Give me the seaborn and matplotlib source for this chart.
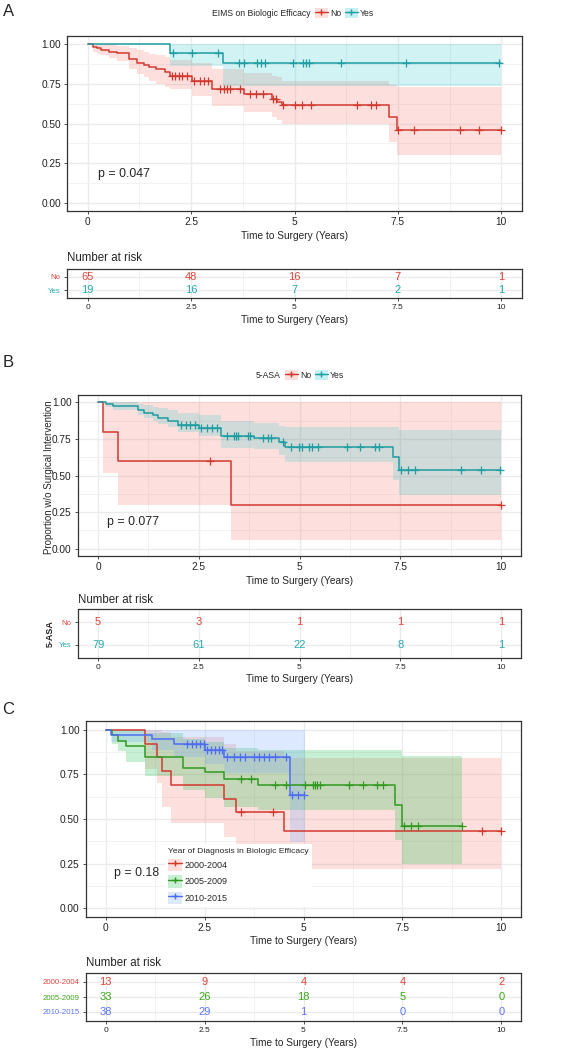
import numpy as np
import matplotlib.pyplot as plt
import seaborn as sns
from matplotlib.patches import Patch
from matplotlib.lines import Line2D

sns.set_style('ticks')
plt.rcParams['font.family'] = ['Liberation Sans', 'DejaVu Sans']

# ---- panel A: EIMS on biologic efficacy ----
a_no_t = [0, 0.14, 0.23, 0.31, 0.51, 0.71, 1.0, 1.2, 1.36, 1.48, 1.64, 1.88, 2.0, 2.52, 3.0, 3.77, 4.45, 4.57, 4.69, 7.29, 7.48, 10.0]
a_no_s = [1.0, 0.983, 0.973, 0.962, 0.952, 0.945, 0.904, 0.883, 0.868, 0.857, 0.843, 0.826, 0.80, 0.77, 0.715, 0.685, 0.652, 0.637, 0.615, 0.543, 0.459, 0.459]
a_no_hi = [1.0, 1.0, 1.0, 1.0, 0.995, 0.99, 0.975, 0.96, 0.95, 0.94, 0.93, 0.92, 0.90, 0.88, 0.84, 0.82, 0.80, 0.79, 0.77, 0.74, 0.73, 0.73]
a_no_lo = [1.0, 0.95, 0.94, 0.93, 0.91, 0.89, 0.84, 0.81, 0.79, 0.77, 0.75, 0.73, 0.715, 0.67, 0.61, 0.575, 0.54, 0.52, 0.50, 0.385, 0.30, 0.30]
a_no_cens = [2.04, 2.12, 2.2, 2.28, 2.39, 2.56, 2.71, 2.8, 2.92, 3.2, 3.29, 3.37, 3.45, 3.69, 3.93, 4.07, 4.25,
             4.49, 4.55, 4.72, 5.01, 5.19, 5.41, 6.5, 6.84, 6.96, 7.5, 7.88, 9.0, 9.47, 9.99]
a_yes_t = [0, 2.0, 3.28, 10.0]
a_yes_s = [1.0, 0.945, 0.882, 0.882]
a_yes_hi = [1.0, 1.0, 1.0, 1.0]
a_yes_lo = [1.0, 0.86, 0.735, 0.735]
a_yes_cens = [2.06, 2.52, 3.14, 3.67, 3.77, 4.09, 4.18, 4.29, 4.96, 5.2, 5.28, 5.35, 6.13, 7.69, 9.95]
a_groups = ['No', 'Yes']
a_risk_no = [65, 48, 16, 7, 1]
a_risk_yes = [19, 16, 7, 2, 1]

# ---- panel B: 5-ASA ----
b_no_t = [0, 0.12, 0.5, 3.3, 10.0]
b_no_s = [1.0, 0.8, 0.6, 0.3, 0.3]
b_no_hi = [1.0, 1.0, 1.0, 1.0, 1.0]
b_no_lo = [1.0, 0.52, 0.30, 0.06, 0.06]
b_no_cens = [2.79, 10.0]
b_yes_t = [0, 0.2, 0.36, 0.98, 1.15, 1.36, 1.48, 1.73, 1.98, 2.51, 3.05, 3.88, 4.5, 4.64, 7.31, 7.47, 10.0]
b_yes_s = [1.0, 0.987, 0.975, 0.948, 0.93, 0.915, 0.895, 0.875, 0.845, 0.823, 0.773, 0.755, 0.727, 0.698, 0.625, 0.54, 0.54]
b_yes_hi = [1.0, 1.0, 1.0, 0.99, 0.98, 0.97, 0.96, 0.95, 0.93, 0.91, 0.875, 0.86, 0.84, 0.83, 0.83, 0.81, 0.81]
b_yes_lo = [1.0, 0.97, 0.95, 0.91, 0.89, 0.87, 0.85, 0.83, 0.80, 0.77, 0.69, 0.68, 0.64, 0.595, 0.47, 0.37, 0.37]
b_yes_cens = [2.06, 2.18, 2.29, 2.4, 2.55, 2.7, 2.82, 2.95, 3.2, 3.38, 3.43, 3.48, 3.71, 3.78, 4.09, 4.21, 4.29,
              4.58, 4.79, 4.99, 5.07, 5.24, 5.32, 5.45, 6.17, 6.5, 6.87, 6.98, 7.51, 7.69, 7.88, 9.02, 9.5, 9.99]
b_groups = ['No', 'Yes']
b_risk_no = [5, 3, 1, 1, 1]
b_risk_yes = [79, 61, 22, 8, 1]

# ---- panel C: year of diagnosis ----
c1_t = [0, 0.98, 1.3, 1.43, 1.64, 3.0, 3.3, 4.5, 10.0]
c1_s = [1.0, 0.923, 0.846, 0.769, 0.692, 0.615, 0.538, 0.43, 0.43]
c1_hi = [1.0, 1.0, 1.0, 0.99, 0.96, 0.92, 0.88, 0.84, 0.84]
c1_lo = [1.0, 0.78, 0.70, 0.57, 0.48, 0.40, 0.36, 0.22, 0.22]
c1_cens = [3.42, 4.23, 9.51, 10.0]
c2_t = [0, 0.17, 0.31, 0.5, 0.98, 1.96, 2.5, 3.0, 3.84, 7.31, 7.5, 9.02]
c2_s = [1.0, 0.97, 0.94, 0.909, 0.85, 0.787, 0.762, 0.725, 0.693, 0.581, 0.46, 0.46]
c2_hi = [1.0, 1.0, 1.0, 1.0, 0.98, 0.95, 0.93, 0.90, 0.885, 0.89, 0.855, 0.855]
c2_lo = [1.0, 0.92, 0.88, 0.82, 0.74, 0.66, 0.62, 0.57, 0.55, 0.38, 0.25, 0.25]
c2_cens = [3.42, 3.67, 4.27, 4.55, 5.03, 5.23, 5.29, 5.35, 5.42, 6.15, 6.51, 6.85, 7.0, 7.54, 7.71, 7.9, 9.02]
c3_t = [0, 0.13, 1.18, 1.72, 2.52, 3.0, 4.66, 5.04]
c3_s = [1.0, 0.974, 0.947, 0.92, 0.887, 0.846, 0.637, 0.637]
c3_hi = [1.0, 1.0, 1.0, 1.0, 1.0, 1.0, 1.0, 1.0]
c3_lo = [1.0, 0.93, 0.89, 0.85, 0.81, 0.76, 0.37, 0.37]
c3_cens = [2.06, 2.17, 2.28, 2.38, 2.49, 2.56, 2.66, 2.77, 2.86, 2.94, 3.07, 3.24, 3.4, 3.51, 3.74, 3.87, 3.99,
           4.14, 4.29, 4.56, 4.71, 4.86, 5.0]
c_groups = ['2000-2004', '2005-2009', '2010-2015']
c_risk_1 = [13, 9, 4, 4, 2]
c_risk_2 = [33, 26, 18, 5, 0]
c_risk_3 = [38, 29, 1, 0, 0]

risk_x = [0, 2.5, 5, 7.5, 10]
x_labels = ['0', '2.5', '5', '7.5', '10']
y_ticks = [0, 0.25, 0.5, 0.75, 1.0]
y_labels = ['0.00', '0.25', '0.50', '0.75', '1.00']

RED, TEAL = '#D2392E', '#1E9DA2'
GREEN, BLUE = '#2F9A1E', '#4F6CF5'
RED_F, TEAL_F, GREEN_F, BLUE_F = '#F8766D', '#00BFC4', '#00BA38', '#619CFF'
RED_T, TEAL_T, GREEN_T, BLUE_T = '#E0453B', '#27AAB0', '#3AA817', '#5B74FF'

W, H = 564, 1050
fig = plt.figure(figsize=(W / 100, H / 100), dpi=100)


def box(l, t, r, b):
    return [l / W, 1 - b / H, (r - l) / W, (b - t) / H]


def km(ax, t, s, lo, hi, cens, lc, fc, alpha=0.22):
    ax.fill_between(t, lo, hi, step='post', color=fc, alpha=alpha, lw=0, zorder=1)
    sns.lineplot(x=t, y=s, drawstyle='steps-post', color=lc, lw=1.1, ax=ax, zorder=2)
    cy = np.array(s)[np.searchsorted(t, cens, side='right') - 1]
    sns.scatterplot(x=cens, y=cy, marker='+', s=30, color=lc, linewidth=0.9, ax=ax, zorder=3)


def base_axes(ax):
    ax.set_xlim(-0.5, 10.5)
    ax.set_xticks(risk_x)
    ax.set_xticks([1.25, 3.75, 6.25, 8.75], minor=True)
    ax.set_axisbelow(True)
    ax.grid(which='major', color='#EBEBEB', lw=1.0)
    ax.grid(which='minor', axis='x', color='#F0F0F0', lw=0.6)
    ax.tick_params(which='minor', length=0)
    ax.tick_params(which='major', length=2.5, width=0.6, color='#333333', pad=2)
    for sp in ax.spines.values():
        sp.set_color('#333333')
        sp.set_linewidth(0.9)
    ax.set_ylabel('')


def main_axes(ax, xlab_y):
    base_axes(ax)
    ax.set_ylim(-0.05, 1.05)
    ax.set_yticks(y_ticks)
    ax.set_yticks([0.125, 0.375, 0.625, 0.875], minor=True)
    ax.grid(which='minor', axis='y', color='#F0F0F0', lw=0.6)
    ax.set_xticklabels(x_labels, fontsize=7.3, color='#222222')
    ax.set_yticklabels(y_labels, fontsize=7.3, color='#222222')
    ax.set_xlabel('Time to Surgery (Years)', fontsize=7.3, va='top')
    ax.xaxis.set_label_coords(0.5, xlab_y)


def risk_axes(ax, groups, counts, colors, xlab_y, title_y):
    base_axes(ax)
    n = len(groups)
    for i in range(n):
        for x, v in zip(risk_x, counts[i]):
            ax.text(x, n - 1 - i, str(v), color=colors[i], ha='center', va='center', fontsize=8)
    ax.set_ylim(-0.6, n - 0.4)
    ax.set_yticks(range(n))
    ax.set_yticklabels(groups[::-1], fontsize=5.6)
    for lab, col in zip(ax.get_yticklabels(), colors[::-1]):
        lab.set_color(col)
    ax.set_xticklabels(x_labels, fontsize=6, color='#222222')
    ax.set_xlabel('Time to Surgery (Years)', fontsize=7.3, va='top')
    ax.xaxis.set_label_coords(0.5, xlab_y)
    pos = ax.get_position()
    fig.text(pos.x0, 1 - title_y / H, 'Number at risk', fontsize=8.3, va='center', ha='left')


def top_legend(title, x_title, x_leg, y, fills, lines):
    handles = [(Patch(facecolor=f, alpha=0.22, lw=0), Line2D([], [], color=c, lw=1.0, marker='+', ms=5))
               for f, c in zip(fills, lines)]
    fig.text(x_title / W, 1 - y / H, title, fontsize=6.2, ha='right', va='center')
    fig.legend(handles, ['No', 'Yes'], ncol=2, loc='center left', bbox_to_anchor=(x_leg / W, 1 - y / H),
               frameon=False, fontsize=6.2, handlelength=1.5, handleheight=1.3, handletextpad=0.25,
               columnspacing=0.4, borderpad=0, borderaxespad=0)


# ---- A ----
axA = fig.add_axes(box(67, 36, 522, 211))
km(axA, a_no_t, a_no_s, a_no_lo, a_no_hi, a_no_cens, RED, RED_F)
km(axA, a_yes_t, a_yes_s, a_yes_lo, a_yes_hi, a_yes_cens, TEAL, TEAL_F, 0.18)
main_axes(axA, -0.114)
axA.text(0.25, 0.18, 'p = 0.047', fontsize=8.9, va='center', ha='left')
top_legend('EIMS on Biologic Efficacy', 311, 315, 13, [RED_F, TEAL_F], [RED, TEAL])
axAr = fig.add_axes(box(67, 269, 522, 298))
risk_axes(axAr, a_groups, [a_risk_no, a_risk_yes], [RED_T, TEAL_T], -0.586, 258)
fig.text(9 / W, 1 - 11 / H, 'A', fontsize=12, ha='center', va='center')

# ---- B ----
axB = fig.add_axes(box(78, 395, 521, 556))
km(axB, b_no_t, b_no_s, b_no_lo, b_no_hi, b_no_cens, RED, RED_F)
km(axB, b_yes_t, b_yes_s, b_yes_lo, b_yes_hi, b_yes_cens, TEAL, TEAL_F, 0.18)
main_axes(axB, -0.124)
axB.text(0.22, 0.18, 'p = 0.077', fontsize=8.9, va='center', ha='left')
fig.text(49 / W, 1 - 477 / H, 'Proportion w/o Surgical Intervention', fontsize=7, rotation=90,
         ha='center', va='center')
top_legend('5-ASA', 281, 285, 375, [RED_F, TEAL_F], [RED, TEAL])
axBr = fig.add_axes(box(78, 609, 521, 658))
risk_axes(axBr, b_groups, [b_risk_no, b_risk_yes], [RED_T, TEAL_T], -0.327, 600)
fig.text(50 / W, 1 - 634 / H, '5-ASA', fontsize=6.5, fontweight='bold', rotation=90, ha='center', va='center')
fig.text(8 / W, 1 - 362 / H, 'B', fontsize=12, ha='center', va='center')

# ---- C ----
axC = fig.add_axes(box(86, 721, 521, 917))
km(axC, c1_t, c1_s, c1_lo, c1_hi, c1_cens, RED, RED_F)
km(axC, c2_t, c2_s, c2_lo, c2_hi, c2_cens, GREEN, GREEN_F)
km(axC, c3_t, c3_s, c3_lo, c3_hi, c3_cens, BLUE, BLUE_F)
main_axes(axC, -0.097)
axC.text(0.2, 0.195, 'p = 0.18', fontsize=8.9, va='center', ha='left')
c_handles = [(Patch(facecolor=f, alpha=0.22, lw=0), Line2D([], [], color=c, lw=1.0, marker='+', ms=5))
             for f, c in zip([RED_F, GREEN_F, BLUE_F], [RED, GREEN, BLUE])]
leg = axC.legend(c_handles, c_groups, title='Year of Diagnosis in Biologic Efficacy', loc='upper left',
                 bbox_to_anchor=(0.182, 0.37), fontsize=6.5, title_fontsize=6.1, frameon=True,
                 facecolor='white', edgecolor='none', framealpha=1, fancybox=False, handlelength=1.5,
                 handleheight=1.75, handletextpad=0.3, labelspacing=0.45, borderpad=0.35, borderaxespad=0,
                 alignment='left')
leg.set_zorder(5)
axCr = fig.add_axes(box(86, 973, 521, 1021))
risk_axes(axCr, c_groups, [c_risk_1, c_risk_2, c_risk_3], [RED_T, GREEN_T, BLUE_T], -0.354, 963)
fig.text(8 / W, 1 - 709 / H, 'C', fontsize=12, ha='center', va='center')

fig.savefig('out.png', dpi=100)
